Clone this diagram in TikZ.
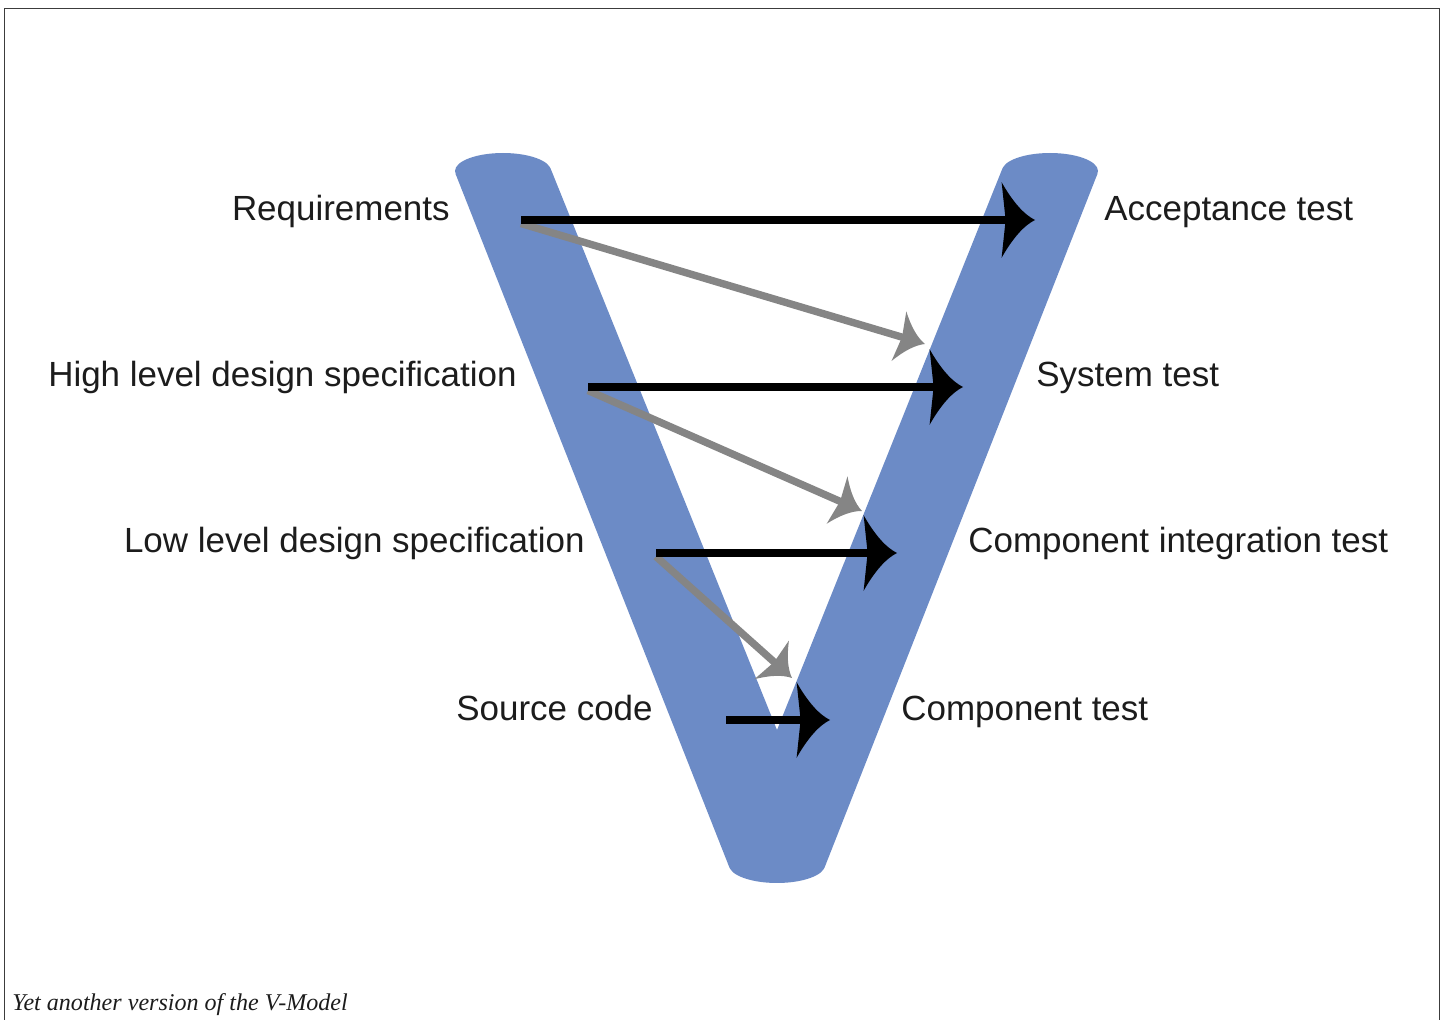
\documentclass[tikz,border=0pt]{standalone}
\usepackage{fontspec}
\setmainfont{Liberation Sans}
\newfontfamily\captionserif{Liberation Serif}
\usetikzlibrary{arrows.meta}

% Arrow tip with concave flanks and a shallow notch at the back
\pgfdeclarearrow{
  name = VHead,
  parameters = {\the\pgfarrowlength,\the\pgfarrowwidth},
  setup code = {
    \pgfarrowssettipend{0pt}
    \pgfarrowssetbackend{-\pgfarrowlength}
    \pgfarrowssetlineend{-0.7\pgfarrowlength}
    \pgfarrowssavethe\pgfarrowlength
    \pgfarrowssavethe\pgfarrowwidth
  },
  drawing code = {
    \pgfpathmoveto{\pgfpointorigin}
    \pgfpathquadraticcurveto{\pgfpoint{-0.5\pgfarrowlength}{0.11\pgfarrowwidth}}{\pgfpoint{-\pgfarrowlength}{0.5\pgfarrowwidth}}
    \pgfpathlineto{\pgfpoint{-0.88\pgfarrowlength}{0pt}}
    \pgfpathlineto{\pgfpoint{-\pgfarrowlength}{-0.5\pgfarrowwidth}}
    \pgfpathquadraticcurveto{\pgfpoint{-0.5\pgfarrowlength}{-0.11\pgfarrowwidth}}{\pgfpointorigin}
    \pgfpathclose
    \pgfusepathqfill
  },
  defaults = {length = 18pt, width = 40pt}
}

\definecolor{vblue}{RGB}{108,139,198}
\definecolor{linkgray}{RGB}{133,133,133}
\definecolor{inkdark}{RGB}{28,28,28}
\definecolor{framegray}{RGB}{60,60,60}

\newcommand\stagefont{\fontsize{19.9pt}{24pt}\selectfont}

\begin{document}
\begin{tikzpicture}[x=0.02cm, y=-0.02cm,
  stage/.style={font=\stagefont, text=inkdark, inner sep=0pt},
  trace/.style={draw=black, fill=black, line width=5pt,
    -{VHead[length=19pt,width=43pt]}},
  refine/.style={draw=linkgray, fill=linkgray, line width=4.2pt,
    -{VHead[length=15.5pt,width=29.5pt]}},
  endcap/.style={x radius=0.96cm, y radius=0.36cm}]

  \useasboundingbox (0,0) rectangle (1448,1020);

  % outer frame (its lower edge lies below the page)
  \draw[framegray, line width=0.85pt] (4.5,1040) |- (1439.5,8.5) -- (1439.5,1040);

  % the V: two slanted arms with elliptical end caps
  \fill[vblue] (455.5,173.7) -- (550.5,168.3) -- (777,730) -- (1002.5,168.3) -- (1097.5,173.7)
               -- (824.5,867.7) -- (729.5,867.7) -- cycle;
  \fill[vblue] (503,171) ellipse [endcap];
  \fill[vblue] (1050,171) ellipse [endcap];
  \fill[vblue] (777,865) ellipse [endcap];

  % stage labels
  \node[stage, anchor=base east] (req) at (450,221) {Requirements};
  \node[stage, anchor=base east] (hld) at (517,387) {High level design specification};
  \node[stage, anchor=base east] (lld) at (585,553) {Low level design specification};
  \node[stage, anchor=base east] (src) at (653,720) {Source code};
  \node[stage, anchor=base west] (acc) at (1104,221) {Acceptance test};
  \node[stage, anchor=base west] (sys) at (1036,387) {System test};
  \node[stage, anchor=base west] (cit) at (968,553) {Component integration test};
  \node[stage, anchor=base west] (cmp) at (901,720) {Component test};

  % arrow anchor points on the two arms
  \coordinate (reqL) at (521,220);
  \coordinate (hldL) at (588,387);
  \coordinate (lldL) at (656,553);
  \coordinate (srcL) at (726,720);
  \coordinate (accR) at (1035,220);
  \coordinate (sysR) at (963,387);
  \coordinate (citR) at (897,553);
  \coordinate (cmpR) at (830,720);
  \coordinate (sysG) at (925,344);
  \coordinate (citG) at (862,511);
  \coordinate (cmpG) at (792,678);

  % refinement links (grey)
  \draw[refine] ([yshift=-2]reqL) -- (sysG);
  \draw[refine] ([yshift=-2]hldL) -- (citG);
  \draw[refine] ([yshift=-2]lldL) -- (cmpG);

  % test links (black)
  \draw[trace] (reqL) -- (accR);
  \draw[trace] (hldL) -- (sysR);
  \draw[trace] (lldL) -- (citR);
  \draw[trace] (srcL) -- (cmpR);

  % caption
  \node[anchor=base west, inner sep=0pt, text=inkdark,
        font=\captionserif\itshape\fontsize{13.7pt}{16pt}\selectfont]
        (caption) at (12,1010) {Yet another version of the V-Model};
\end{tikzpicture}
\end{document}
